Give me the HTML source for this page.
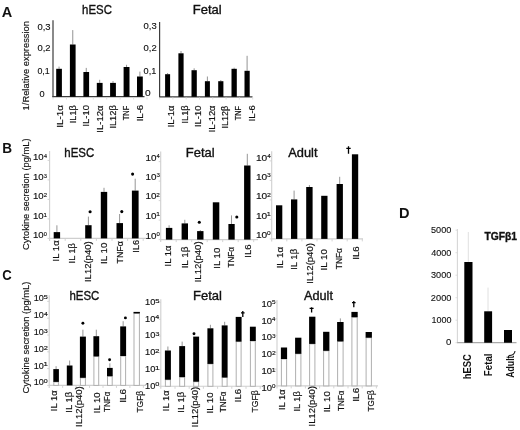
<!DOCTYPE html>
<html><head><meta charset="utf-8"><style>
html,body{margin:0;padding:0;background:#fff;}
svg{display:block;font-family:"Liberation Sans", sans-serif;filter:grayscale(100%);}
</style></head><body>
<svg width="520" height="430" viewBox="0 0 520 430">
<rect width="520" height="430" fill="#fff"/>
<line x1="53.00" y1="20.30" x2="53.00" y2="97.30" stroke="#3c3c3c" stroke-width="1.2"/>
<line x1="52.40" y1="96.70" x2="144.50" y2="96.70" stroke="#3c3c3c" stroke-width="1.3"/>
<line x1="159.60" y1="22.00" x2="159.60" y2="97.30" stroke="#3c3c3c" stroke-width="1.2"/>
<line x1="159.00" y1="96.80" x2="252.50" y2="96.80" stroke="#3c3c3c" stroke-width="1.3"/>
<line x1="53.00" y1="97.30" x2="53.00" y2="99.50" stroke="#d8d8d8" stroke-width="0.8"/>
<line x1="66.43" y1="97.30" x2="66.43" y2="99.50" stroke="#d8d8d8" stroke-width="0.8"/>
<line x1="79.86" y1="97.30" x2="79.86" y2="99.50" stroke="#d8d8d8" stroke-width="0.8"/>
<line x1="93.29" y1="97.30" x2="93.29" y2="99.50" stroke="#d8d8d8" stroke-width="0.8"/>
<line x1="106.72" y1="97.30" x2="106.72" y2="99.50" stroke="#d8d8d8" stroke-width="0.8"/>
<line x1="120.15" y1="97.30" x2="120.15" y2="99.50" stroke="#d8d8d8" stroke-width="0.8"/>
<line x1="133.58" y1="97.30" x2="133.58" y2="99.50" stroke="#d8d8d8" stroke-width="0.8"/>
<line x1="147.01" y1="97.30" x2="147.01" y2="99.50" stroke="#d8d8d8" stroke-width="0.8"/>
<line x1="159.60" y1="97.30" x2="159.60" y2="99.50" stroke="#d8d8d8" stroke-width="0.8"/>
<line x1="172.90" y1="97.30" x2="172.90" y2="99.50" stroke="#d8d8d8" stroke-width="0.8"/>
<line x1="186.20" y1="97.30" x2="186.20" y2="99.50" stroke="#d8d8d8" stroke-width="0.8"/>
<line x1="199.50" y1="97.30" x2="199.50" y2="99.50" stroke="#d8d8d8" stroke-width="0.8"/>
<line x1="212.80" y1="97.30" x2="212.80" y2="99.50" stroke="#d8d8d8" stroke-width="0.8"/>
<line x1="226.10" y1="97.30" x2="226.10" y2="99.50" stroke="#d8d8d8" stroke-width="0.8"/>
<line x1="239.40" y1="97.30" x2="239.40" y2="99.50" stroke="#d8d8d8" stroke-width="0.8"/>
<line x1="252.70" y1="97.30" x2="252.70" y2="99.50" stroke="#d8d8d8" stroke-width="0.8"/>
<line x1="59.05" y1="66.60" x2="59.05" y2="68.80" stroke="#888" stroke-width="0.9"/>
<rect x="56.20" y="68.80" width="5.70" height="27.90" fill="#000"/>
<line x1="72.75" y1="30.10" x2="72.75" y2="44.50" stroke="#888" stroke-width="0.9"/>
<rect x="69.90" y="44.50" width="5.70" height="52.20" fill="#000"/>
<line x1="86.25" y1="67.90" x2="86.25" y2="72.00" stroke="#888" stroke-width="0.9"/>
<rect x="83.40" y="72.00" width="5.70" height="24.70" fill="#000"/>
<line x1="99.70" y1="79.80" x2="99.70" y2="82.90" stroke="#888" stroke-width="0.9"/>
<rect x="96.80" y="82.90" width="5.80" height="13.80" fill="#000"/>
<line x1="113.00" y1="81.10" x2="113.00" y2="82.90" stroke="#888" stroke-width="0.9"/>
<rect x="110.10" y="82.90" width="5.80" height="13.80" fill="#000"/>
<line x1="126.55" y1="64.80" x2="126.55" y2="67.00" stroke="#888" stroke-width="0.9"/>
<rect x="123.60" y="67.00" width="5.90" height="29.70" fill="#000"/>
<line x1="139.90" y1="71.60" x2="139.90" y2="76.50" stroke="#888" stroke-width="0.9"/>
<rect x="137.00" y="76.50" width="5.80" height="20.20" fill="#000"/>
<line x1="167.60" y1="73.00" x2="167.60" y2="74.20" stroke="#888" stroke-width="0.9"/>
<rect x="165.10" y="74.20" width="5.00" height="22.60" fill="#000"/>
<line x1="181.00" y1="51.00" x2="181.00" y2="53.30" stroke="#888" stroke-width="0.9"/>
<rect x="178.40" y="53.30" width="5.20" height="43.50" fill="#000"/>
<line x1="194.15" y1="68.30" x2="194.15" y2="70.20" stroke="#888" stroke-width="0.9"/>
<rect x="191.50" y="70.20" width="5.30" height="26.60" fill="#000"/>
<line x1="207.40" y1="76.50" x2="207.40" y2="81.20" stroke="#888" stroke-width="0.9"/>
<rect x="204.90" y="81.20" width="5.00" height="15.60" fill="#000"/>
<line x1="220.80" y1="80.00" x2="220.80" y2="81.20" stroke="#888" stroke-width="0.9"/>
<rect x="218.20" y="81.20" width="5.20" height="15.60" fill="#000"/>
<line x1="234.15" y1="67.70" x2="234.15" y2="68.80" stroke="#888" stroke-width="0.9"/>
<rect x="231.50" y="68.80" width="5.30" height="28.00" fill="#000"/>
<line x1="247.10" y1="55.80" x2="247.10" y2="70.80" stroke="#888" stroke-width="0.9"/>
<rect x="244.50" y="70.80" width="5.20" height="26.00" fill="#000"/>
<line x1="49.60" y1="151.00" x2="49.60" y2="240.90" stroke="#cfcfcf" stroke-width="1.1"/>
<line x1="49.60" y1="238.40" x2="146.50" y2="238.40" stroke="#cfcfcf" stroke-width="1.1"/>
<line x1="47.60" y1="238.40" x2="49.60" y2="238.40" stroke="#cfcfcf" stroke-width="0.9"/>
<line x1="47.60" y1="218.90" x2="49.60" y2="218.90" stroke="#cfcfcf" stroke-width="0.9"/>
<line x1="47.60" y1="199.40" x2="49.60" y2="199.40" stroke="#cfcfcf" stroke-width="0.9"/>
<line x1="47.60" y1="179.90" x2="49.60" y2="179.90" stroke="#cfcfcf" stroke-width="0.9"/>
<line x1="47.60" y1="160.40" x2="49.60" y2="160.40" stroke="#cfcfcf" stroke-width="0.9"/>
<line x1="65.20" y1="238.40" x2="65.20" y2="240.90" stroke="#cfcfcf" stroke-width="0.9"/>
<line x1="80.80" y1="238.40" x2="80.80" y2="240.90" stroke="#cfcfcf" stroke-width="0.9"/>
<line x1="96.40" y1="238.40" x2="96.40" y2="240.90" stroke="#cfcfcf" stroke-width="0.9"/>
<line x1="112.00" y1="238.40" x2="112.00" y2="240.90" stroke="#cfcfcf" stroke-width="0.9"/>
<line x1="127.60" y1="238.40" x2="127.60" y2="240.90" stroke="#cfcfcf" stroke-width="0.9"/>
<line x1="143.20" y1="238.40" x2="143.20" y2="240.90" stroke="#cfcfcf" stroke-width="0.9"/>
<line x1="160.70" y1="151.50" x2="160.70" y2="242.10" stroke="#cfcfcf" stroke-width="1.1"/>
<line x1="160.70" y1="239.60" x2="258.00" y2="239.60" stroke="#cfcfcf" stroke-width="1.1"/>
<line x1="158.70" y1="239.60" x2="160.70" y2="239.60" stroke="#cfcfcf" stroke-width="0.9"/>
<line x1="158.70" y1="220.10" x2="160.70" y2="220.10" stroke="#cfcfcf" stroke-width="0.9"/>
<line x1="158.70" y1="200.60" x2="160.70" y2="200.60" stroke="#cfcfcf" stroke-width="0.9"/>
<line x1="158.70" y1="181.10" x2="160.70" y2="181.10" stroke="#cfcfcf" stroke-width="0.9"/>
<line x1="158.70" y1="161.60" x2="160.70" y2="161.60" stroke="#cfcfcf" stroke-width="0.9"/>
<line x1="176.20" y1="239.60" x2="176.20" y2="242.10" stroke="#cfcfcf" stroke-width="0.9"/>
<line x1="191.70" y1="239.60" x2="191.70" y2="242.10" stroke="#cfcfcf" stroke-width="0.9"/>
<line x1="207.20" y1="239.60" x2="207.20" y2="242.10" stroke="#cfcfcf" stroke-width="0.9"/>
<line x1="222.70" y1="239.60" x2="222.70" y2="242.10" stroke="#cfcfcf" stroke-width="0.9"/>
<line x1="238.20" y1="239.60" x2="238.20" y2="242.10" stroke="#cfcfcf" stroke-width="0.9"/>
<line x1="253.70" y1="239.60" x2="253.70" y2="242.10" stroke="#cfcfcf" stroke-width="0.9"/>
<line x1="271.70" y1="151.30" x2="271.70" y2="241.40" stroke="#cfcfcf" stroke-width="1.1"/>
<line x1="271.70" y1="238.90" x2="363.00" y2="238.90" stroke="#cfcfcf" stroke-width="1.1"/>
<line x1="269.70" y1="238.90" x2="271.70" y2="238.90" stroke="#cfcfcf" stroke-width="0.9"/>
<line x1="269.70" y1="219.40" x2="271.70" y2="219.40" stroke="#cfcfcf" stroke-width="0.9"/>
<line x1="269.70" y1="199.90" x2="271.70" y2="199.90" stroke="#cfcfcf" stroke-width="0.9"/>
<line x1="269.70" y1="180.40" x2="271.70" y2="180.40" stroke="#cfcfcf" stroke-width="0.9"/>
<line x1="269.70" y1="160.90" x2="271.70" y2="160.90" stroke="#cfcfcf" stroke-width="0.9"/>
<line x1="286.80" y1="238.90" x2="286.80" y2="241.40" stroke="#cfcfcf" stroke-width="0.9"/>
<line x1="301.90" y1="238.90" x2="301.90" y2="241.40" stroke="#cfcfcf" stroke-width="0.9"/>
<line x1="317.00" y1="238.90" x2="317.00" y2="241.40" stroke="#cfcfcf" stroke-width="0.9"/>
<line x1="332.10" y1="238.90" x2="332.10" y2="241.40" stroke="#cfcfcf" stroke-width="0.9"/>
<line x1="347.20" y1="238.90" x2="347.20" y2="241.40" stroke="#cfcfcf" stroke-width="0.9"/>
<line x1="362.30" y1="238.90" x2="362.30" y2="241.40" stroke="#cfcfcf" stroke-width="0.9"/>
<line x1="56.90" y1="225.30" x2="56.90" y2="232.10" stroke="#8a8a8a" stroke-width="0.9"/>
<rect x="53.70" y="232.10" width="6.40" height="6.30" fill="#000"/>
<line x1="88.40" y1="216.60" x2="88.40" y2="225.20" stroke="#8a8a8a" stroke-width="0.9"/>
<rect x="85.20" y="225.20" width="6.40" height="13.20" fill="#000"/>
<line x1="104.00" y1="187.80" x2="104.00" y2="191.90" stroke="#8a8a8a" stroke-width="0.9"/>
<rect x="100.80" y="191.90" width="6.40" height="46.50" fill="#000"/>
<line x1="119.60" y1="214.00" x2="119.60" y2="223.10" stroke="#8a8a8a" stroke-width="0.9"/>
<rect x="116.50" y="223.10" width="6.50" height="15.30" fill="#000"/>
<line x1="135.20" y1="178.70" x2="135.20" y2="190.60" stroke="#8a8a8a" stroke-width="0.9"/>
<rect x="131.90" y="190.60" width="6.70" height="47.80" fill="#000"/>
<line x1="169.10" y1="225.30" x2="169.10" y2="227.90" stroke="#8a8a8a" stroke-width="0.9"/>
<rect x="165.90" y="227.90" width="6.40" height="11.70" fill="#000"/>
<line x1="184.80" y1="219.80" x2="184.80" y2="223.40" stroke="#8a8a8a" stroke-width="0.9"/>
<rect x="181.60" y="223.40" width="6.40" height="16.20" fill="#000"/>
<line x1="200.30" y1="230.00" x2="200.30" y2="231.10" stroke="#8a8a8a" stroke-width="0.9"/>
<rect x="197.10" y="231.10" width="6.40" height="8.50" fill="#000"/>
<rect x="212.80" y="202.30" width="6.50" height="37.30" fill="#000"/>
<line x1="231.50" y1="215.40" x2="231.50" y2="224.00" stroke="#8a8a8a" stroke-width="0.9"/>
<rect x="228.40" y="224.00" width="6.30" height="15.60" fill="#000"/>
<line x1="247.30" y1="153.80" x2="247.30" y2="165.50" stroke="#8a8a8a" stroke-width="0.9"/>
<rect x="244.10" y="165.50" width="6.40" height="74.10" fill="#000"/>
<rect x="276.00" y="205.30" width="6.30" height="33.60" fill="#000"/>
<line x1="294.10" y1="190.60" x2="294.10" y2="199.40" stroke="#8a8a8a" stroke-width="0.9"/>
<rect x="291.00" y="199.40" width="6.30" height="39.50" fill="#000"/>
<line x1="309.40" y1="185.10" x2="309.40" y2="187.00" stroke="#8a8a8a" stroke-width="0.9"/>
<rect x="306.20" y="187.00" width="6.40" height="51.90" fill="#000"/>
<rect x="321.20" y="195.80" width="6.30" height="43.10" fill="#000"/>
<line x1="339.70" y1="176.80" x2="339.70" y2="184.00" stroke="#8a8a8a" stroke-width="0.9"/>
<rect x="336.60" y="184.00" width="6.30" height="54.90" fill="#000"/>
<rect x="351.90" y="154.30" width="6.30" height="84.60" fill="#000"/>
<circle cx="90.1" cy="211.7" r="1.55" fill="#000"/>
<circle cx="121.8" cy="211.6" r="1.55" fill="#000"/>
<circle cx="132.6" cy="174.1" r="1.55" fill="#000"/>
<circle cx="199.3" cy="222.2" r="1.55" fill="#000"/>
<circle cx="236.8" cy="217.0" r="1.55" fill="#000"/>
<path d="M348.5 146.2V153.8M346.3 148.4H350.7" stroke="#000" stroke-width="1.3" fill="none"/>
<line x1="49.20" y1="295.20" x2="49.20" y2="387.90" stroke="#cfcfcf" stroke-width="1.1"/>
<line x1="49.20" y1="385.40" x2="146.00" y2="385.40" stroke="#cfcfcf" stroke-width="1.1"/>
<line x1="47.20" y1="385.40" x2="49.20" y2="385.40" stroke="#cfcfcf" stroke-width="0.9"/>
<line x1="47.20" y1="368.60" x2="49.20" y2="368.60" stroke="#cfcfcf" stroke-width="0.9"/>
<line x1="47.20" y1="351.80" x2="49.20" y2="351.80" stroke="#cfcfcf" stroke-width="0.9"/>
<line x1="47.20" y1="335.00" x2="49.20" y2="335.00" stroke="#cfcfcf" stroke-width="0.9"/>
<line x1="47.20" y1="318.20" x2="49.20" y2="318.20" stroke="#cfcfcf" stroke-width="0.9"/>
<line x1="47.20" y1="301.40" x2="49.20" y2="301.40" stroke="#cfcfcf" stroke-width="0.9"/>
<line x1="62.65" y1="385.40" x2="62.65" y2="387.90" stroke="#cfcfcf" stroke-width="0.9"/>
<line x1="76.10" y1="385.40" x2="76.10" y2="387.90" stroke="#cfcfcf" stroke-width="0.9"/>
<line x1="89.55" y1="385.40" x2="89.55" y2="387.90" stroke="#cfcfcf" stroke-width="0.9"/>
<line x1="103.00" y1="385.40" x2="103.00" y2="387.90" stroke="#cfcfcf" stroke-width="0.9"/>
<line x1="116.45" y1="385.40" x2="116.45" y2="387.90" stroke="#cfcfcf" stroke-width="0.9"/>
<line x1="129.90" y1="385.40" x2="129.90" y2="387.90" stroke="#cfcfcf" stroke-width="0.9"/>
<line x1="143.35" y1="385.40" x2="143.35" y2="387.90" stroke="#cfcfcf" stroke-width="0.9"/>
<line x1="160.80" y1="299.30" x2="160.80" y2="388.80" stroke="#cfcfcf" stroke-width="1.1"/>
<line x1="160.80" y1="386.30" x2="262.00" y2="386.30" stroke="#cfcfcf" stroke-width="1.1"/>
<line x1="158.80" y1="386.30" x2="160.80" y2="386.30" stroke="#cfcfcf" stroke-width="0.9"/>
<line x1="158.80" y1="369.55" x2="160.80" y2="369.55" stroke="#cfcfcf" stroke-width="0.9"/>
<line x1="158.80" y1="352.80" x2="160.80" y2="352.80" stroke="#cfcfcf" stroke-width="0.9"/>
<line x1="158.80" y1="336.05" x2="160.80" y2="336.05" stroke="#cfcfcf" stroke-width="0.9"/>
<line x1="158.80" y1="319.30" x2="160.80" y2="319.30" stroke="#cfcfcf" stroke-width="0.9"/>
<line x1="158.80" y1="302.55" x2="160.80" y2="302.55" stroke="#cfcfcf" stroke-width="0.9"/>
<line x1="175.00" y1="386.30" x2="175.00" y2="388.80" stroke="#cfcfcf" stroke-width="0.9"/>
<line x1="189.20" y1="386.30" x2="189.20" y2="388.80" stroke="#cfcfcf" stroke-width="0.9"/>
<line x1="203.40" y1="386.30" x2="203.40" y2="388.80" stroke="#cfcfcf" stroke-width="0.9"/>
<line x1="217.60" y1="386.30" x2="217.60" y2="388.80" stroke="#cfcfcf" stroke-width="0.9"/>
<line x1="231.80" y1="386.30" x2="231.80" y2="388.80" stroke="#cfcfcf" stroke-width="0.9"/>
<line x1="246.00" y1="386.30" x2="246.00" y2="388.80" stroke="#cfcfcf" stroke-width="0.9"/>
<line x1="260.20" y1="386.30" x2="260.20" y2="388.80" stroke="#cfcfcf" stroke-width="0.9"/>
<line x1="277.00" y1="299.90" x2="277.00" y2="388.40" stroke="#cfcfcf" stroke-width="1.1"/>
<line x1="277.00" y1="385.90" x2="378.00" y2="385.90" stroke="#cfcfcf" stroke-width="1.1"/>
<line x1="275.00" y1="385.90" x2="277.00" y2="385.90" stroke="#cfcfcf" stroke-width="0.9"/>
<line x1="275.00" y1="369.10" x2="277.00" y2="369.10" stroke="#cfcfcf" stroke-width="0.9"/>
<line x1="275.00" y1="352.30" x2="277.00" y2="352.30" stroke="#cfcfcf" stroke-width="0.9"/>
<line x1="275.00" y1="335.50" x2="277.00" y2="335.50" stroke="#cfcfcf" stroke-width="0.9"/>
<line x1="275.00" y1="318.70" x2="277.00" y2="318.70" stroke="#cfcfcf" stroke-width="0.9"/>
<line x1="275.00" y1="301.90" x2="277.00" y2="301.90" stroke="#cfcfcf" stroke-width="0.9"/>
<line x1="291.20" y1="385.90" x2="291.20" y2="388.40" stroke="#cfcfcf" stroke-width="0.9"/>
<line x1="305.40" y1="385.90" x2="305.40" y2="388.40" stroke="#cfcfcf" stroke-width="0.9"/>
<line x1="319.60" y1="385.90" x2="319.60" y2="388.40" stroke="#cfcfcf" stroke-width="0.9"/>
<line x1="333.80" y1="385.90" x2="333.80" y2="388.40" stroke="#cfcfcf" stroke-width="0.9"/>
<line x1="348.00" y1="385.90" x2="348.00" y2="388.40" stroke="#cfcfcf" stroke-width="0.9"/>
<line x1="362.20" y1="385.90" x2="362.20" y2="388.40" stroke="#cfcfcf" stroke-width="0.9"/>
<line x1="376.40" y1="385.90" x2="376.40" y2="388.40" stroke="#cfcfcf" stroke-width="0.9"/>
<line x1="56.10" y1="366.20" x2="56.10" y2="369.10" stroke="#8a8a8a" stroke-width="0.9"/>
<rect x="53.80" y="381.90" width="4.60" height="3.50" fill="#fff" stroke="#b0b0b0" stroke-width="1.0"/>
<rect x="53.30" y="369.10" width="5.60" height="12.80" fill="#000"/>
<line x1="69.65" y1="360.50" x2="69.65" y2="365.50" stroke="#8a8a8a" stroke-width="0.9"/>
<rect x="66.80" y="365.50" width="5.70" height="19.90" fill="#000"/>
<line x1="82.90" y1="329.70" x2="82.90" y2="336.60" stroke="#8a8a8a" stroke-width="0.9"/>
<rect x="80.40" y="377.80" width="5.00" height="7.60" fill="#fff" stroke="#b0b0b0" stroke-width="1.0"/>
<rect x="79.90" y="336.60" width="6.00" height="41.20" fill="#000"/>
<line x1="96.30" y1="329.70" x2="96.30" y2="336.20" stroke="#8a8a8a" stroke-width="0.9"/>
<rect x="93.90" y="356.40" width="4.80" height="29.00" fill="#fff" stroke="#b0b0b0" stroke-width="1.0"/>
<rect x="93.40" y="336.20" width="5.80" height="20.20" fill="#000"/>
<line x1="109.85" y1="363.30" x2="109.85" y2="367.90" stroke="#8a8a8a" stroke-width="0.9"/>
<rect x="107.50" y="376.20" width="4.70" height="9.20" fill="#fff" stroke="#b0b0b0" stroke-width="1.0"/>
<rect x="107.00" y="367.90" width="5.70" height="8.30" fill="#000"/>
<line x1="123.15" y1="321.20" x2="123.15" y2="326.40" stroke="#8a8a8a" stroke-width="0.9"/>
<rect x="120.70" y="356.00" width="4.90" height="29.40" fill="#fff" stroke="#b0b0b0" stroke-width="1.0"/>
<rect x="120.20" y="326.40" width="5.90" height="29.60" fill="#000"/>
<rect x="134.00" y="313.40" width="5.40" height="72.00" fill="#fff" stroke="#b0b0b0" stroke-width="1.0"/>
<rect x="133.50" y="311.90" width="6.40" height="1.50" fill="#000"/>
<line x1="167.90" y1="346.50" x2="167.90" y2="350.50" stroke="#8a8a8a" stroke-width="0.9"/>
<rect x="165.40" y="379.70" width="5.00" height="6.60" fill="#fff" stroke="#b0b0b0" stroke-width="1.0"/>
<rect x="164.90" y="350.50" width="6.00" height="29.20" fill="#000"/>
<line x1="182.15" y1="341.60" x2="182.15" y2="346.10" stroke="#8a8a8a" stroke-width="0.9"/>
<rect x="179.70" y="377.10" width="4.90" height="9.20" fill="#fff" stroke="#b0b0b0" stroke-width="1.0"/>
<rect x="179.20" y="346.10" width="5.90" height="31.00" fill="#000"/>
<rect x="193.70" y="381.70" width="4.90" height="4.60" fill="#fff" stroke="#b0b0b0" stroke-width="1.0"/>
<rect x="193.20" y="336.60" width="5.90" height="45.10" fill="#000"/>
<line x1="210.40" y1="324.80" x2="210.40" y2="328.30" stroke="#8a8a8a" stroke-width="0.9"/>
<rect x="207.90" y="363.90" width="5.00" height="22.40" fill="#fff" stroke="#b0b0b0" stroke-width="1.0"/>
<rect x="207.40" y="328.30" width="6.00" height="35.60" fill="#000"/>
<line x1="224.65" y1="321.80" x2="224.65" y2="325.40" stroke="#8a8a8a" stroke-width="0.9"/>
<rect x="222.20" y="377.50" width="4.90" height="8.80" fill="#fff" stroke="#b0b0b0" stroke-width="1.0"/>
<rect x="221.70" y="325.40" width="5.90" height="52.10" fill="#000"/>
<rect x="236.20" y="341.60" width="4.90" height="44.70" fill="#fff" stroke="#b0b0b0" stroke-width="1.0"/>
<rect x="235.70" y="316.90" width="5.90" height="24.70" fill="#000"/>
<rect x="250.40" y="341.00" width="4.90" height="45.30" fill="#fff" stroke="#b0b0b0" stroke-width="1.0"/>
<rect x="249.90" y="326.70" width="5.90" height="14.30" fill="#000"/>
<rect x="281.40" y="359.00" width="5.20" height="26.90" fill="#fff" stroke="#b0b0b0" stroke-width="1.0"/>
<rect x="280.90" y="347.50" width="6.20" height="11.50" fill="#000"/>
<rect x="295.60" y="353.80" width="5.30" height="32.10" fill="#fff" stroke="#b0b0b0" stroke-width="1.0"/>
<rect x="295.10" y="337.70" width="6.30" height="16.10" fill="#000"/>
<rect x="309.60" y="343.90" width="5.30" height="42.00" fill="#fff" stroke="#b0b0b0" stroke-width="1.0"/>
<rect x="309.10" y="316.70" width="6.30" height="27.20" fill="#000"/>
<rect x="323.60" y="350.80" width="5.30" height="35.10" fill="#fff" stroke="#b0b0b0" stroke-width="1.0"/>
<rect x="323.10" y="331.80" width="6.30" height="19.00" fill="#000"/>
<line x1="340.35" y1="318.40" x2="340.35" y2="322.00" stroke="#8a8a8a" stroke-width="0.9"/>
<rect x="337.60" y="341.40" width="5.50" height="44.50" fill="#fff" stroke="#b0b0b0" stroke-width="1.0"/>
<rect x="337.10" y="322.00" width="6.50" height="19.40" fill="#000"/>
<rect x="351.90" y="317.20" width="5.30" height="68.70" fill="#fff" stroke="#b0b0b0" stroke-width="1.0"/>
<rect x="351.40" y="311.90" width="6.30" height="5.30" fill="#000"/>
<rect x="366.10" y="337.70" width="5.30" height="48.20" fill="#fff" stroke="#b0b0b0" stroke-width="1.0"/>
<rect x="365.60" y="332.00" width="6.30" height="5.70" fill="#000"/>
<circle cx="82.9" cy="323.2" r="1.45" fill="#000"/>
<circle cx="109.6" cy="359.8" r="1.45" fill="#000"/>
<circle cx="125.4" cy="317.9" r="1.45" fill="#000"/>
<circle cx="194.0" cy="333.7" r="1.45" fill="#000"/>
<path d="M242.8 310.9V316.9M241.0 312.8H244.60000000000002" stroke="#000" stroke-width="1.3" fill="none"/>
<path d="M311.6 307.3V312.6M309.6 308.3H313.6" stroke="#000" stroke-width="1.3" fill="none"/>
<path d="M353.8 301.0V307.3M352.0 302.6H355.6" stroke="#000" stroke-width="1.3" fill="none"/>
<line x1="457.40" y1="229.00" x2="457.40" y2="343.00" stroke="#d6d6d6" stroke-width="1.1"/>
<line x1="457.00" y1="342.70" x2="516.50" y2="342.70" stroke="#aaa" stroke-width="1.2"/>
<line x1="455.50" y1="230.20" x2="457.40" y2="230.20" stroke="#d6d6d6" stroke-width="0.8"/>
<line x1="455.50" y1="252.70" x2="457.40" y2="252.70" stroke="#d6d6d6" stroke-width="0.8"/>
<line x1="455.50" y1="275.20" x2="457.40" y2="275.20" stroke="#d6d6d6" stroke-width="0.8"/>
<line x1="455.50" y1="297.70" x2="457.40" y2="297.70" stroke="#d6d6d6" stroke-width="0.8"/>
<line x1="455.50" y1="320.20" x2="457.40" y2="320.20" stroke="#d6d6d6" stroke-width="0.8"/>
<line x1="455.50" y1="342.70" x2="457.40" y2="342.70" stroke="#d6d6d6" stroke-width="0.8"/>
<line x1="468.30" y1="232.00" x2="468.30" y2="262.00" stroke="#ddd" stroke-width="0.9"/>
<line x1="488.00" y1="287.60" x2="488.00" y2="311.30" stroke="#ddd" stroke-width="0.9"/>
<rect x="464.30" y="262.00" width="8.20" height="80.70" fill="#000"/>
<rect x="484.20" y="311.30" width="7.90" height="31.40" fill="#000"/>
<rect x="504.00" y="330.00" width="8.00" height="12.70" fill="#000"/>
<path d="M508.8 355.6C511.5 355.6 514.6 355.4 515.0 351.0" stroke="#222" stroke-width="1.1" fill="none"/>
<text transform="translate(1.87,16.60) scale(1.039,1)" font-size="14" font-weight="bold" fill="#111" stroke="#111" stroke-width="0.0">A</text>
<text transform="translate(2.15,153.10) scale(0.971,1)" font-size="14" font-weight="bold" fill="#111" stroke="#111" stroke-width="0.0">B</text>
<text transform="translate(2.19,280.00) scale(0.936,1)" font-size="14" font-weight="bold" fill="#111" stroke="#111" stroke-width="0.0">C</text>
<text transform="translate(398.99,217.60) scale(1.040,1)" font-size="14" font-weight="bold" fill="#111" stroke="#111" stroke-width="0.0">D</text>
<text transform="translate(82.09,13.60) scale(0.935,1)" font-size="12.2" fill="#111" stroke="#111" stroke-width="0.35">hESC</text>
<text transform="translate(192.78,13.90) scale(1.068,1)" font-size="12.2" fill="#111" stroke="#111" stroke-width="0.35">Fetal</text>
<text transform="translate(64.28,156.60) scale(0.940,1)" font-size="12.2" fill="#111" stroke="#111" stroke-width="0.35">hESC</text>
<text transform="translate(185.78,157.30) scale(1.066,1)" font-size="12.2" fill="#111" stroke="#111" stroke-width="0.35">Fetal</text>
<text transform="translate(288.20,157.20) scale(1.052,1)" font-size="12.2" fill="#111" stroke="#111" stroke-width="0.35">Adult</text>
<text transform="translate(69.48,299.50) scale(0.939,1)" font-size="12.2" fill="#111" stroke="#111" stroke-width="0.35">hESC</text>
<text transform="translate(192.98,299.90) scale(1.068,1)" font-size="12.2" fill="#111" stroke="#111" stroke-width="0.35">Fetal</text>
<text transform="translate(304.00,299.70) scale(1.041,1)" font-size="12.2" fill="#111" stroke="#111" stroke-width="0.35">Adult</text>
<text transform="translate(484.50,239.60) scale(0.973,1)" font-size="10.6" font-weight="bold" fill="#111" stroke="#111" stroke-width="0.35">TGFβ1</text>
<text transform="translate(29.30,110.39) rotate(-90) scale(1.040,1)" font-size="9.0" fill="#111" stroke="#111" stroke-width="0.15">1/Relative expression</text>
<text transform="translate(29.20,250.04) rotate(-90) scale(1.016,1)" font-size="9.2" fill="#111" stroke="#111" stroke-width="0.15">Cytokine secretion (pg/mL)</text>
<text transform="translate(29.20,393.44) rotate(-90) scale(1.019,1)" font-size="9.2" fill="#111" stroke="#111" stroke-width="0.15">Cytokine secretion (pg/mL)</text>
<text transform="translate(37.40,29.50) scale(1.098,1)" font-size="8.6" fill="#111" stroke="#111" stroke-width="0.12">0,3</text>
<text transform="translate(37.40,51.20) scale(1.098,1)" font-size="8.6" fill="#111" stroke="#111" stroke-width="0.12">0,2</text>
<text transform="translate(37.42,74.30) scale(1.032,1)" font-size="8.6" fill="#111" stroke="#111" stroke-width="0.12">0,1</text>
<text transform="translate(39.41,96.80) scale(1.070,1)" font-size="8.6" fill="#111" stroke="#111" stroke-width="0.12">0</text>
<text transform="translate(143.60,29.30) scale(1.102,1)" font-size="8.6" fill="#111" stroke="#111" stroke-width="0.12">0,3</text>
<text transform="translate(143.60,51.20) scale(1.102,1)" font-size="8.6" fill="#111" stroke="#111" stroke-width="0.12">0,2</text>
<text transform="translate(143.61,74.00) scale(1.067,1)" font-size="8.6" fill="#111" stroke="#111" stroke-width="0.12">0,1</text>
<text transform="translate(144.98,96.20) scale(1.186,1)" font-size="8.6" fill="#111" stroke="#111" stroke-width="0.12">0</text>
<text transform="translate(62.80,127.67) rotate(-90) scale(1.148,1)" font-size="8.6" fill="#111" stroke="#111" stroke-width="0.18">IL-1α</text>
<text transform="translate(75.80,123.21) rotate(-90) scale(1.063,1)" font-size="8.6" fill="#111" stroke="#111" stroke-width="0.18">IL1β</text>
<text transform="translate(89.30,126.54) rotate(-90) scale(1.095,1)" font-size="8.6" fill="#111" stroke="#111" stroke-width="0.18">IL-10</text>
<text transform="translate(102.80,132.65) rotate(-90) scale(1.111,1)" font-size="8.6" fill="#111" stroke="#111" stroke-width="0.18">IL-12α</text>
<text transform="translate(116.10,128.62) rotate(-90) scale(1.079,1)" font-size="8.6" fill="#111" stroke="#111" stroke-width="0.18">IL12β</text>
<text transform="translate(129.30,120.32) rotate(-90) scale(0.871,1)" font-size="8.6" fill="#111" stroke="#111" stroke-width="0.18">TNF</text>
<text transform="translate(143.20,121.35) rotate(-90) scale(1.116,1)" font-size="8.6" fill="#111" stroke="#111" stroke-width="0.18">IL-6</text>
<text transform="translate(174.30,127.35) rotate(-90) scale(1.111,1)" font-size="8.6" fill="#111" stroke="#111" stroke-width="0.18">IL-1α</text>
<text transform="translate(187.50,123.53) rotate(-90) scale(1.082,1)" font-size="8.6" fill="#111" stroke="#111" stroke-width="0.18">IL1β</text>
<text transform="translate(200.60,127.04) rotate(-90) scale(1.095,1)" font-size="8.6" fill="#111" stroke="#111" stroke-width="0.18">IL-10</text>
<text transform="translate(215.10,132.23) rotate(-90) scale(1.090,1)" font-size="8.6" fill="#111" stroke="#111" stroke-width="0.18">IL-12α</text>
<text transform="translate(227.80,128.50) rotate(-90) scale(1.040,1)" font-size="8.6" fill="#111" stroke="#111" stroke-width="0.18">IL12β</text>
<text transform="translate(241.10,120.32) rotate(-90) scale(0.859,1)" font-size="8.6" fill="#111" stroke="#111" stroke-width="0.18">TNF</text>
<text transform="translate(254.60,121.33) rotate(-90) scale(1.087,1)" font-size="8.6" fill="#111" stroke="#111" stroke-width="0.18">IL-6</text>
<text transform="translate(59.00,261.45) rotate(-90) scale(0.997,1)" font-size="9.6" fill="#111" stroke="#111" stroke-width="0.18">IL 1α</text>
<text transform="translate(75.40,263.42) rotate(-90) scale(0.960,1)" font-size="9.6" fill="#111" stroke="#111" stroke-width="0.18">IL 1β</text>
<text transform="translate(91.10,282.04) rotate(-90) scale(0.991,1)" font-size="9.6" fill="#111" stroke="#111" stroke-width="0.18">IL12(p40)</text>
<text transform="translate(107.20,264.07) rotate(-90) scale(1.026,1)" font-size="9.6" fill="#111" stroke="#111" stroke-width="0.18">IL 10</text>
<text transform="translate(122.50,263.44) rotate(-90) scale(0.924,1)" font-size="9.6" fill="#111" stroke="#111" stroke-width="0.18">TNFα</text>
<text transform="translate(138.60,252.73) rotate(-90) scale(0.975,1)" font-size="9.6" fill="#111" stroke="#111" stroke-width="0.18">IL6</text>
<text transform="translate(170.60,266.44) rotate(-90) scale(0.987,1)" font-size="9.6" fill="#111" stroke="#111" stroke-width="0.18">IL 1α</text>
<text transform="translate(188.30,268.37) rotate(-90) scale(1.029,1)" font-size="9.6" fill="#111" stroke="#111" stroke-width="0.18">IL 1β</text>
<text transform="translate(201.00,282.35) rotate(-90) scale(0.999,1)" font-size="9.6" fill="#111" stroke="#111" stroke-width="0.18">IL12(p40)</text>
<text transform="translate(219.50,268.75) rotate(-90) scale(1.002,1)" font-size="9.6" fill="#111" stroke="#111" stroke-width="0.18">IL 10</text>
<text transform="translate(233.70,267.53) rotate(-90) scale(0.853,1)" font-size="9.6" fill="#111" stroke="#111" stroke-width="0.18">TNFα</text>
<text transform="translate(250.50,257.65) rotate(-90) scale(0.999,1)" font-size="9.6" fill="#111" stroke="#111" stroke-width="0.18">IL6</text>
<text transform="translate(283.30,268.36) rotate(-90) scale(1.011,1)" font-size="9.6" fill="#111" stroke="#111" stroke-width="0.18">IL 1α</text>
<text transform="translate(296.50,269.84) rotate(-90) scale(0.990,1)" font-size="9.6" fill="#111" stroke="#111" stroke-width="0.18">IL 1β</text>
<text transform="translate(312.80,283.84) rotate(-90) scale(0.991,1)" font-size="9.6" fill="#111" stroke="#111" stroke-width="0.18">IL12(p40)</text>
<text transform="translate(326.80,270.47) rotate(-90) scale(1.026,1)" font-size="9.6" fill="#111" stroke="#111" stroke-width="0.18">IL 10</text>
<text transform="translate(341.90,269.23) rotate(-90) scale(0.874,1)" font-size="9.6" fill="#111" stroke="#111" stroke-width="0.18">TNFα</text>
<text transform="translate(358.80,259.76) rotate(-90) scale(1.008,1)" font-size="9.6" fill="#111" stroke="#111" stroke-width="0.18">IL6</text>
<text transform="translate(56.90,411.14) rotate(-90) scale(0.982,1)" font-size="9.6" fill="#111" stroke="#111" stroke-width="0.18">IL 1α</text>
<text transform="translate(72.00,412.74) rotate(-90) scale(0.985,1)" font-size="9.6" fill="#111" stroke="#111" stroke-width="0.18">IL 1β</text>
<text transform="translate(82.30,426.94) rotate(-90) scale(0.989,1)" font-size="9.6" fill="#111" stroke="#111" stroke-width="0.18">IL12(p40)</text>
<text transform="translate(99.70,413.14) rotate(-90) scale(0.992,1)" font-size="9.6" fill="#111" stroke="#111" stroke-width="0.18">IL 10</text>
<text transform="translate(110.40,411.93) rotate(-90) scale(0.841,1)" font-size="9.6" fill="#111" stroke="#111" stroke-width="0.18">TNFα</text>
<text transform="translate(126.30,402.78) rotate(-90) scale(1.040,1)" font-size="9.6" fill="#111" stroke="#111" stroke-width="0.18">IL6</text>
<text transform="translate(142.60,412.53) rotate(-90) scale(0.877,1)" font-size="9.6" fill="#111" stroke="#111" stroke-width="0.18">TGFβ</text>
<text transform="translate(168.50,411.14) rotate(-90) scale(0.982,1)" font-size="9.6" fill="#111" stroke="#111" stroke-width="0.18">IL 1α</text>
<text transform="translate(184.00,412.74) rotate(-90) scale(0.985,1)" font-size="9.6" fill="#111" stroke="#111" stroke-width="0.18">IL 1β</text>
<text transform="translate(198.10,427.24) rotate(-90) scale(0.986,1)" font-size="9.6" fill="#111" stroke="#111" stroke-width="0.18">IL12(p40)</text>
<text transform="translate(212.50,413.56) rotate(-90) scale(1.012,1)" font-size="9.6" fill="#111" stroke="#111" stroke-width="0.18">IL 10</text>
<text transform="translate(226.40,412.23) rotate(-90) scale(0.853,1)" font-size="9.6" fill="#111" stroke="#111" stroke-width="0.18">TNFα</text>
<text transform="translate(240.90,402.25) rotate(-90) scale(0.999,1)" font-size="9.6" fill="#111" stroke="#111" stroke-width="0.18">IL6</text>
<text transform="translate(257.70,412.54) rotate(-90) scale(0.901,1)" font-size="9.6" fill="#111" stroke="#111" stroke-width="0.18">TGFβ</text>
<text transform="translate(285.00,410.04) rotate(-90) scale(0.982,1)" font-size="9.6" fill="#111" stroke="#111" stroke-width="0.18">IL 1α</text>
<text transform="translate(300.40,411.62) rotate(-90) scale(0.960,1)" font-size="9.6" fill="#111" stroke="#111" stroke-width="0.18">IL 1β</text>
<text transform="translate(315.10,426.44) rotate(-90) scale(0.984,1)" font-size="9.6" fill="#111" stroke="#111" stroke-width="0.18">IL12(p40)</text>
<text transform="translate(330.10,412.36) rotate(-90) scale(1.007,1)" font-size="9.6" fill="#111" stroke="#111" stroke-width="0.18">IL 10</text>
<text transform="translate(343.60,411.03) rotate(-90) scale(0.853,1)" font-size="9.6" fill="#111" stroke="#111" stroke-width="0.18">TNFα</text>
<text transform="translate(358.90,401.68) rotate(-90) scale(1.040,1)" font-size="9.6" fill="#111" stroke="#111" stroke-width="0.18">IL6</text>
<text transform="translate(373.70,411.43) rotate(-90) scale(0.856,1)" font-size="9.6" fill="#111" stroke="#111" stroke-width="0.18">TGFβ</text>
<text transform="translate(470.70,379.34) rotate(-90) scale(0.888,1)" font-size="10.6" font-weight="bold" fill="#111" stroke="#111" stroke-width="0.0">hESC</text>
<text transform="translate(491.95,376.21) rotate(-90) scale(0.921,1)" font-size="10.6" font-weight="bold" fill="#111" stroke="#111" stroke-width="0.0">Fetal</text>
<text transform="translate(514.45,377.64) rotate(-90) scale(0.815,1)" font-size="10.6" font-weight="bold" fill="#111" stroke="#111" stroke-width="0.0">Adult</text>
<text transform="translate(33.00,160.30) scale(1.123,1)" font-size="8.6" fill="#111" stroke="#111" stroke-width="0.15">10</text>
<text transform="translate(43.92,157.90) scale(0.876,1)" font-size="6.2" fill="#111" stroke="#111" stroke-width="0.15">4</text>
<text transform="translate(33.00,179.90) scale(1.123,1)" font-size="8.6" fill="#111" stroke="#111" stroke-width="0.15">10</text>
<text transform="translate(43.82,177.50) scale(0.932,1)" font-size="6.2" fill="#111" stroke="#111" stroke-width="0.15">3</text>
<text transform="translate(33.00,199.40) scale(1.123,1)" font-size="8.6" fill="#111" stroke="#111" stroke-width="0.15">10</text>
<text transform="translate(43.72,197.00) scale(0.963,1)" font-size="6.2" fill="#111" stroke="#111" stroke-width="0.15">2</text>
<text transform="translate(33.00,218.90) scale(1.123,1)" font-size="8.6" fill="#111" stroke="#111" stroke-width="0.15">10</text>
<text transform="translate(43.61,216.50) scale(0.997,1)" font-size="6.2" fill="#111" stroke="#111" stroke-width="0.15">1</text>
<text transform="translate(33.00,238.20) scale(1.123,1)" font-size="8.6" fill="#111" stroke="#111" stroke-width="0.15">10</text>
<text transform="translate(43.83,235.80) scale(0.903,1)" font-size="6.2" fill="#111" stroke="#111" stroke-width="0.15">0</text>
<text transform="translate(145.48,160.50) scale(1.146,1)" font-size="8.6" fill="#111" stroke="#111" stroke-width="0.15">10</text>
<text transform="translate(156.51,158.10) scale(0.938,1)" font-size="6.2" fill="#111" stroke="#111" stroke-width="0.15">4</text>
<text transform="translate(145.48,179.80) scale(1.146,1)" font-size="8.6" fill="#111" stroke="#111" stroke-width="0.15">10</text>
<text transform="translate(156.41,177.40) scale(0.999,1)" font-size="6.2" fill="#111" stroke="#111" stroke-width="0.15">3</text>
<text transform="translate(145.48,199.20) scale(1.146,1)" font-size="8.6" fill="#111" stroke="#111" stroke-width="0.15">10</text>
<text transform="translate(156.30,196.80) scale(1.032,1)" font-size="6.2" fill="#111" stroke="#111" stroke-width="0.15">2</text>
<text transform="translate(145.48,218.80) scale(1.146,1)" font-size="8.6" fill="#111" stroke="#111" stroke-width="0.15">10</text>
<text transform="translate(156.19,216.40) scale(1.068,1)" font-size="6.2" fill="#111" stroke="#111" stroke-width="0.15">1</text>
<text transform="translate(145.48,238.50) scale(1.146,1)" font-size="8.6" fill="#111" stroke="#111" stroke-width="0.15">10</text>
<text transform="translate(156.41,236.10) scale(0.968,1)" font-size="6.2" fill="#111" stroke="#111" stroke-width="0.15">0</text>
<text transform="translate(255.97,160.50) scale(1.180,1)" font-size="8.6" fill="#111" stroke="#111" stroke-width="0.15">10</text>
<text transform="translate(267.20,158.10) scale(1.032,1)" font-size="6.2" fill="#111" stroke="#111" stroke-width="0.15">4</text>
<text transform="translate(255.97,179.50) scale(1.180,1)" font-size="8.6" fill="#111" stroke="#111" stroke-width="0.15">10</text>
<text transform="translate(267.09,177.10) scale(1.099,1)" font-size="6.2" fill="#111" stroke="#111" stroke-width="0.15">3</text>
<text transform="translate(255.97,199.20) scale(1.180,1)" font-size="8.6" fill="#111" stroke="#111" stroke-width="0.15">10</text>
<text transform="translate(266.97,196.80) scale(1.135,1)" font-size="6.2" fill="#111" stroke="#111" stroke-width="0.15">2</text>
<text transform="translate(255.97,218.80) scale(1.180,1)" font-size="8.6" fill="#111" stroke="#111" stroke-width="0.15">10</text>
<text transform="translate(266.84,216.40) scale(1.175,1)" font-size="6.2" fill="#111" stroke="#111" stroke-width="0.15">1</text>
<text transform="translate(255.97,237.80) scale(1.180,1)" font-size="8.6" fill="#111" stroke="#111" stroke-width="0.15">10</text>
<text transform="translate(267.09,235.40) scale(1.065,1)" font-size="6.2" fill="#111" stroke="#111" stroke-width="0.15">0</text>
<text transform="translate(33.83,301.40) scale(1.055,1)" font-size="8.6" fill="#111" stroke="#111" stroke-width="0.15">10</text>
<text transform="translate(43.77,299.00) scale(1.165,1)" font-size="6.2" fill="#111" stroke="#111" stroke-width="0.15">5</text>
<text transform="translate(33.83,318.30) scale(1.055,1)" font-size="8.6" fill="#111" stroke="#111" stroke-width="0.15">10</text>
<text transform="translate(43.89,315.90) scale(1.095,1)" font-size="6.2" fill="#111" stroke="#111" stroke-width="0.15">4</text>
<text transform="translate(33.83,334.90) scale(1.055,1)" font-size="8.6" fill="#111" stroke="#111" stroke-width="0.15">10</text>
<text transform="translate(43.77,332.50) scale(1.165,1)" font-size="6.2" fill="#111" stroke="#111" stroke-width="0.15">3</text>
<text transform="translate(33.83,352.00) scale(1.055,1)" font-size="8.6" fill="#111" stroke="#111" stroke-width="0.15">10</text>
<text transform="translate(43.65,349.60) scale(1.204,1)" font-size="6.2" fill="#111" stroke="#111" stroke-width="0.15">2</text>
<text transform="translate(33.83,368.60) scale(1.055,1)" font-size="8.6" fill="#111" stroke="#111" stroke-width="0.15">10</text>
<text transform="translate(43.52,366.20) scale(1.246,1)" font-size="6.2" fill="#111" stroke="#111" stroke-width="0.15">1</text>
<text transform="translate(33.83,385.40) scale(1.055,1)" font-size="8.6" fill="#111" stroke="#111" stroke-width="0.15">10</text>
<text transform="translate(43.78,383.00) scale(1.129,1)" font-size="6.2" fill="#111" stroke="#111" stroke-width="0.15">0</text>
<text transform="translate(145.02,304.90) scale(1.078,1)" font-size="8.6" fill="#111" stroke="#111" stroke-width="0.15">10</text>
<text transform="translate(155.16,302.50) scale(1.232,1)" font-size="6.2" fill="#111" stroke="#111" stroke-width="0.15">5</text>
<text transform="translate(145.02,321.80) scale(1.078,1)" font-size="8.6" fill="#111" stroke="#111" stroke-width="0.15">10</text>
<text transform="translate(155.29,319.40) scale(1.157,1)" font-size="6.2" fill="#111" stroke="#111" stroke-width="0.15">4</text>
<text transform="translate(145.02,338.40) scale(1.078,1)" font-size="8.6" fill="#111" stroke="#111" stroke-width="0.15">10</text>
<text transform="translate(155.16,336.00) scale(1.232,1)" font-size="6.2" fill="#111" stroke="#111" stroke-width="0.15">3</text>
<text transform="translate(145.02,355.10) scale(1.078,1)" font-size="8.6" fill="#111" stroke="#111" stroke-width="0.15">10</text>
<text transform="translate(155.03,352.70) scale(1.273,1)" font-size="6.2" fill="#111" stroke="#111" stroke-width="0.15">2</text>
<text transform="translate(145.02,372.10) scale(1.078,1)" font-size="8.6" fill="#111" stroke="#111" stroke-width="0.15">10</text>
<text transform="translate(154.89,369.70) scale(1.317,1)" font-size="6.2" fill="#111" stroke="#111" stroke-width="0.15">1</text>
<text transform="translate(145.02,388.60) scale(1.078,1)" font-size="8.6" fill="#111" stroke="#111" stroke-width="0.15">10</text>
<text transform="translate(155.17,386.20) scale(1.194,1)" font-size="6.2" fill="#111" stroke="#111" stroke-width="0.15">0</text>
<text transform="translate(261.61,306.70) scale(1.101,1)" font-size="8.6" fill="#111" stroke="#111" stroke-width="0.15">10</text>
<text transform="translate(272.00,304.30) scale(1.032,1)" font-size="6.2" fill="#111" stroke="#111" stroke-width="0.15">5</text>
<text transform="translate(261.61,323.50) scale(1.101,1)" font-size="8.6" fill="#111" stroke="#111" stroke-width="0.15">10</text>
<text transform="translate(272.11,321.10) scale(0.970,1)" font-size="6.2" fill="#111" stroke="#111" stroke-width="0.15">4</text>
<text transform="translate(261.61,340.20) scale(1.101,1)" font-size="8.6" fill="#111" stroke="#111" stroke-width="0.15">10</text>
<text transform="translate(272.00,337.80) scale(1.032,1)" font-size="6.2" fill="#111" stroke="#111" stroke-width="0.15">3</text>
<text transform="translate(261.61,357.00) scale(1.101,1)" font-size="8.6" fill="#111" stroke="#111" stroke-width="0.15">10</text>
<text transform="translate(271.89,354.60) scale(1.067,1)" font-size="6.2" fill="#111" stroke="#111" stroke-width="0.15">2</text>
<text transform="translate(261.61,374.10) scale(1.101,1)" font-size="8.6" fill="#111" stroke="#111" stroke-width="0.15">10</text>
<text transform="translate(271.77,371.70) scale(1.103,1)" font-size="6.2" fill="#111" stroke="#111" stroke-width="0.15">1</text>
<text transform="translate(261.61,390.80) scale(1.101,1)" font-size="8.6" fill="#111" stroke="#111" stroke-width="0.15">10</text>
<text transform="translate(272.01,388.40) scale(1.000,1)" font-size="6.2" fill="#111" stroke="#111" stroke-width="0.15">0</text>
<text transform="translate(431.01,233.40) scale(1.043,1)" font-size="8.8" fill="#111" stroke="#111" stroke-width="0.1">5000</text>
<text transform="translate(431.16,255.78) scale(1.035,1)" font-size="8.8" fill="#111" stroke="#111" stroke-width="0.1">4000</text>
<text transform="translate(431.01,278.16) scale(1.043,1)" font-size="8.8" fill="#111" stroke="#111" stroke-width="0.1">3000</text>
<text transform="translate(430.87,300.54) scale(1.050,1)" font-size="8.8" fill="#111" stroke="#111" stroke-width="0.1">2000</text>
<text transform="translate(431.44,322.92) scale(1.021,1)" font-size="8.8" fill="#111" stroke="#111" stroke-width="0.1">1000</text>
<text transform="translate(446.10,345.30) scale(1.091,1)" font-size="8.8" fill="#111" stroke="#111" stroke-width="0.1">0</text>
</svg></body></html>
